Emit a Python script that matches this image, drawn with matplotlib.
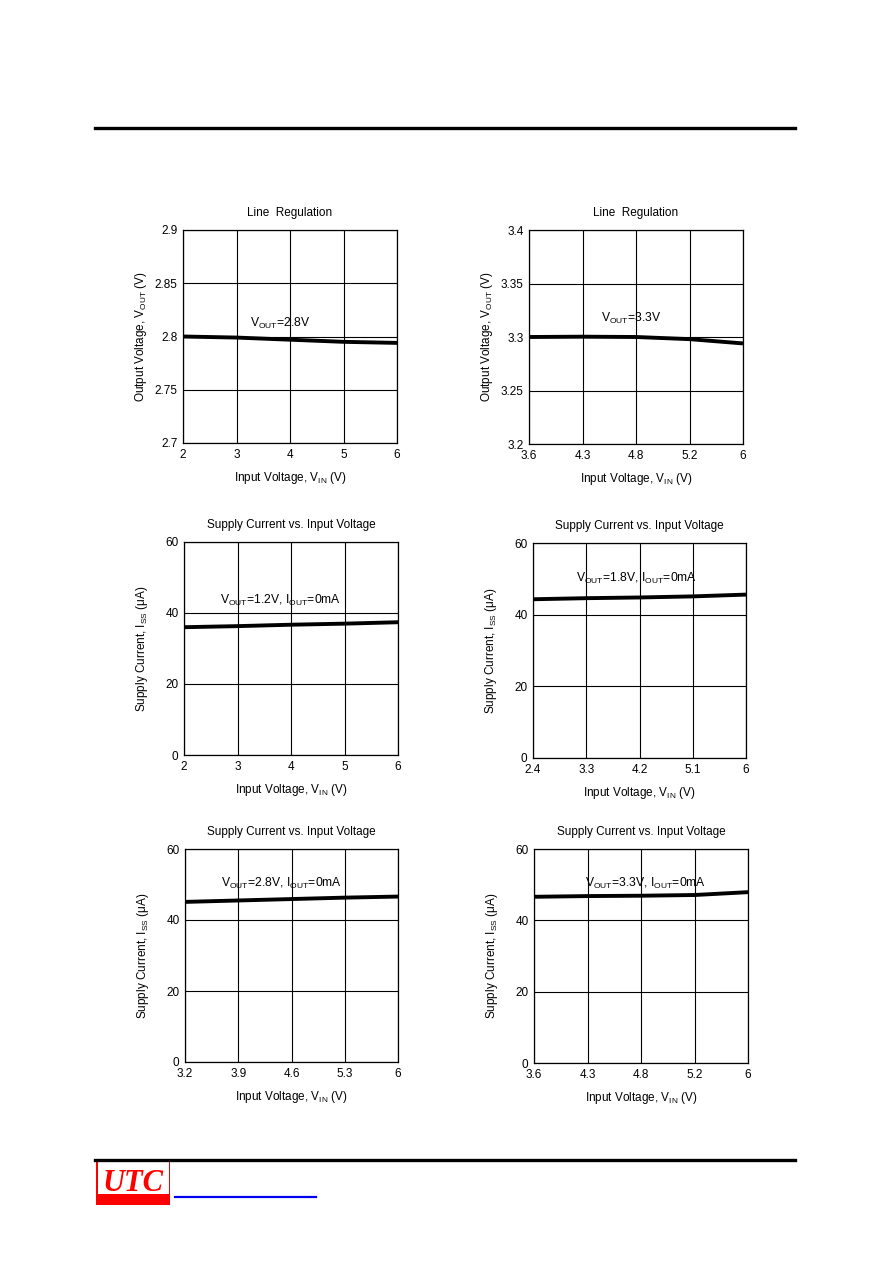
import matplotlib
matplotlib.use("Agg")
import matplotlib.pyplot as plt
from matplotlib.lines import Line2D
from matplotlib.patches import Rectangle

plt.rcParams["font.family"] = ["Liberation Sans", "DejaVu Sans"]
plt.rcParams["mathtext.fontset"] = "custom"
plt.rcParams["mathtext.rm"] = "Liberation Sans"
plt.rcParams["mathtext.it"] = "Liberation Sans:italic"

W, H = 892, 1263

# datos
X_LR1 = ["2", "3", "4", "5", "6"]
Y_LR1 = [2.800, 2.799, 2.797, 2.795, 2.794]

X_LR2 = ["3.6", "4.3", "4.8", "5.2", "6"]
Y_LR2 = [3.300, 3.3003, 3.300, 3.298, 3.294]

X_I12 = ["2", "3", "4", "5", "6"]
Y_I12 = [36.0, 36.3, 36.7, 37.0, 37.4]

X_I18 = ["2.4", "3.3", "4.2", "5.1", "6"]
Y_I18 = [44.3, 44.6, 44.8, 45.1, 45.6]

X_I28 = ["3.2", "3.9", "4.6", "5.3", "6"]
Y_I28 = [45.1, 45.5, 45.9, 46.3, 46.6]

X_I33 = ["3.6", "4.3", "4.8", "5.2", "6"]
Y_I33 = [46.6, 46.8, 46.9, 47.1, 47.9]

Y_LR1_TICKS = [2.7, 2.75, 2.8, 2.85, 2.9]
Y_LR2_TICKS = [3.2, 3.25, 3.3, 3.35, 3.4]
Y_I_TICKS = [0, 20, 40, 60]

TITULO_LR = "Line  Regulation"
TITULO_I = "Supply Current vs. Input Voltage"
XLAB = "Input Voltage, V$_{\\mathrm{IN}}$ (V)"
YLAB_V = "Output Voltage, V$_{\\mathrm{OUT}}$ (V)"
YLAB_I = "Supply Current, I$_{\\mathrm{SS}}$ (\u03bcA)"

fig = plt.figure(figsize=(W / 100, H / 100), dpi=100)
fig.patch.set_facecolor("white")


def ejes(l, t, r, b):
    return fig.add_axes([l / W, 1 - b / H, (r - l) / W, (b - t) / H])


def grafico(ax, xlab, yvals, yticks, ylabels, titulo, ylab, nota, nx, ny):
    xs = list(range(len(xlab)))
    ax.plot(xs, yvals, color="black", lw=2.8, solid_capstyle="butt")
    ax.set_xlim(0, len(xlab) - 1)
    ax.set_ylim(yticks[0], yticks[-1])
    ax.set_xticks(xs)
    ax.set_xticklabels(xlab)
    ax.set_yticks(yticks)
    ax.set_yticklabels(ylabels)
    ax.tick_params(length=0, labelsize=8.5, pad=4, colors="black")
    ax.grid(color="black", lw=0.8)
    ax.set_axisbelow(True)
    for s in ax.spines.values():
        s.set_linewidth(0.9)
    ax.set_title(titulo, fontsize=8.5, pad=10)
    ax.set_xlabel(XLAB, fontsize=8.5, labelpad=6.5)
    ax.set_ylabel(ylab, fontsize=8.5)
    ax.yaxis.set_label_coords(-0.16, 0.5)
    ax.text(nx, ny, nota, fontsize=8.7, ha="left", va="center")


ax1 = ejes(183, 230, 397, 443)
grafico(ax1, X_LR1, Y_LR1, Y_LR1_TICKS, ["2.7", "2.75", "2.8", "2.85", "2.9"],
        TITULO_LR, YLAB_V, "V$_{\\mathrm{OUT}}$=2.8V", 1.25, 2.8127)

ax2 = ejes(529, 230, 743, 444)
grafico(ax2, X_LR2, Y_LR2, Y_LR2_TICKS, ["3.2", "3.25", "3.3", "3.35", "3.4"],
        TITULO_LR, YLAB_V, "V$_{\\mathrm{OUT}}$=3.3V", 1.35, 3.317)

ax3 = ejes(184, 542, 398, 755)
grafico(ax3, X_I12, Y_I12, Y_I_TICKS, ["0", "20", "40", "60"],
        TITULO_I, YLAB_I, "V$_{\\mathrm{OUT}}$=1.2V, I$_{\\mathrm{OUT}}$=0mA", 0.67, 43.4)

ax4 = ejes(533, 543, 746, 758)
grafico(ax4, X_I18, Y_I18, Y_I_TICKS, ["0", "20", "40", "60"],
        TITULO_I, YLAB_I, "V$_{\\mathrm{OUT}}$=1.8V, I$_{\\mathrm{OUT}}$=0mA", 0.81, 50.2)

ax5 = ejes(185, 849, 398, 1062)
grafico(ax5, X_I28, Y_I28, Y_I_TICKS, ["0", "20", "40", "60"],
        TITULO_I, YLAB_I, "V$_{\\mathrm{OUT}}$=2.8V, I$_{\\mathrm{OUT}}$=0mA", 0.68, 50.4)

ax6 = ejes(534, 849, 748, 1063)
grafico(ax6, X_I33, Y_I33, Y_I_TICKS, ["0", "20", "40", "60"],
        TITULO_I, YLAB_I, "V$_{\\mathrm{OUT}}$=3.3V, I$_{\\mathrm{OUT}}$=0mA", 0.95, 50.4)

# lineas de cabecera y pie
fig.add_artist(Line2D([95 / W, 795 / W], [1 - 128 / H, 1 - 128 / H], color="black", lw=2.4))
fig.add_artist(Line2D([95 / W, 795 / W], [1 - 1160 / H, 1 - 1160 / H], color="black", lw=2.4))
fig.add_artist(Line2D([175 / W, 316 / W], [1 - 1197 / H, 1 - 1197 / H], color="#0000ee", lw=1.6))

# logo UTC
axl = ejes(96, 1159, 170, 1205)
axl.set_xlim(0, 74)
axl.set_ylim(46, 0)
axl.axis("off")
axl.add_patch(Rectangle((0, 0), 74, 46, color="red", lw=0))
axl.add_patch(Rectangle((1.5, 1.5), 71, 33, color="white", lw=0))
axl.text(37, 32, "UTC", color="red", fontsize=22, family="Liberation Serif",
         style="italic", weight="bold", ha="center", va="baseline")

fig.savefig("out.png", dpi=100)
